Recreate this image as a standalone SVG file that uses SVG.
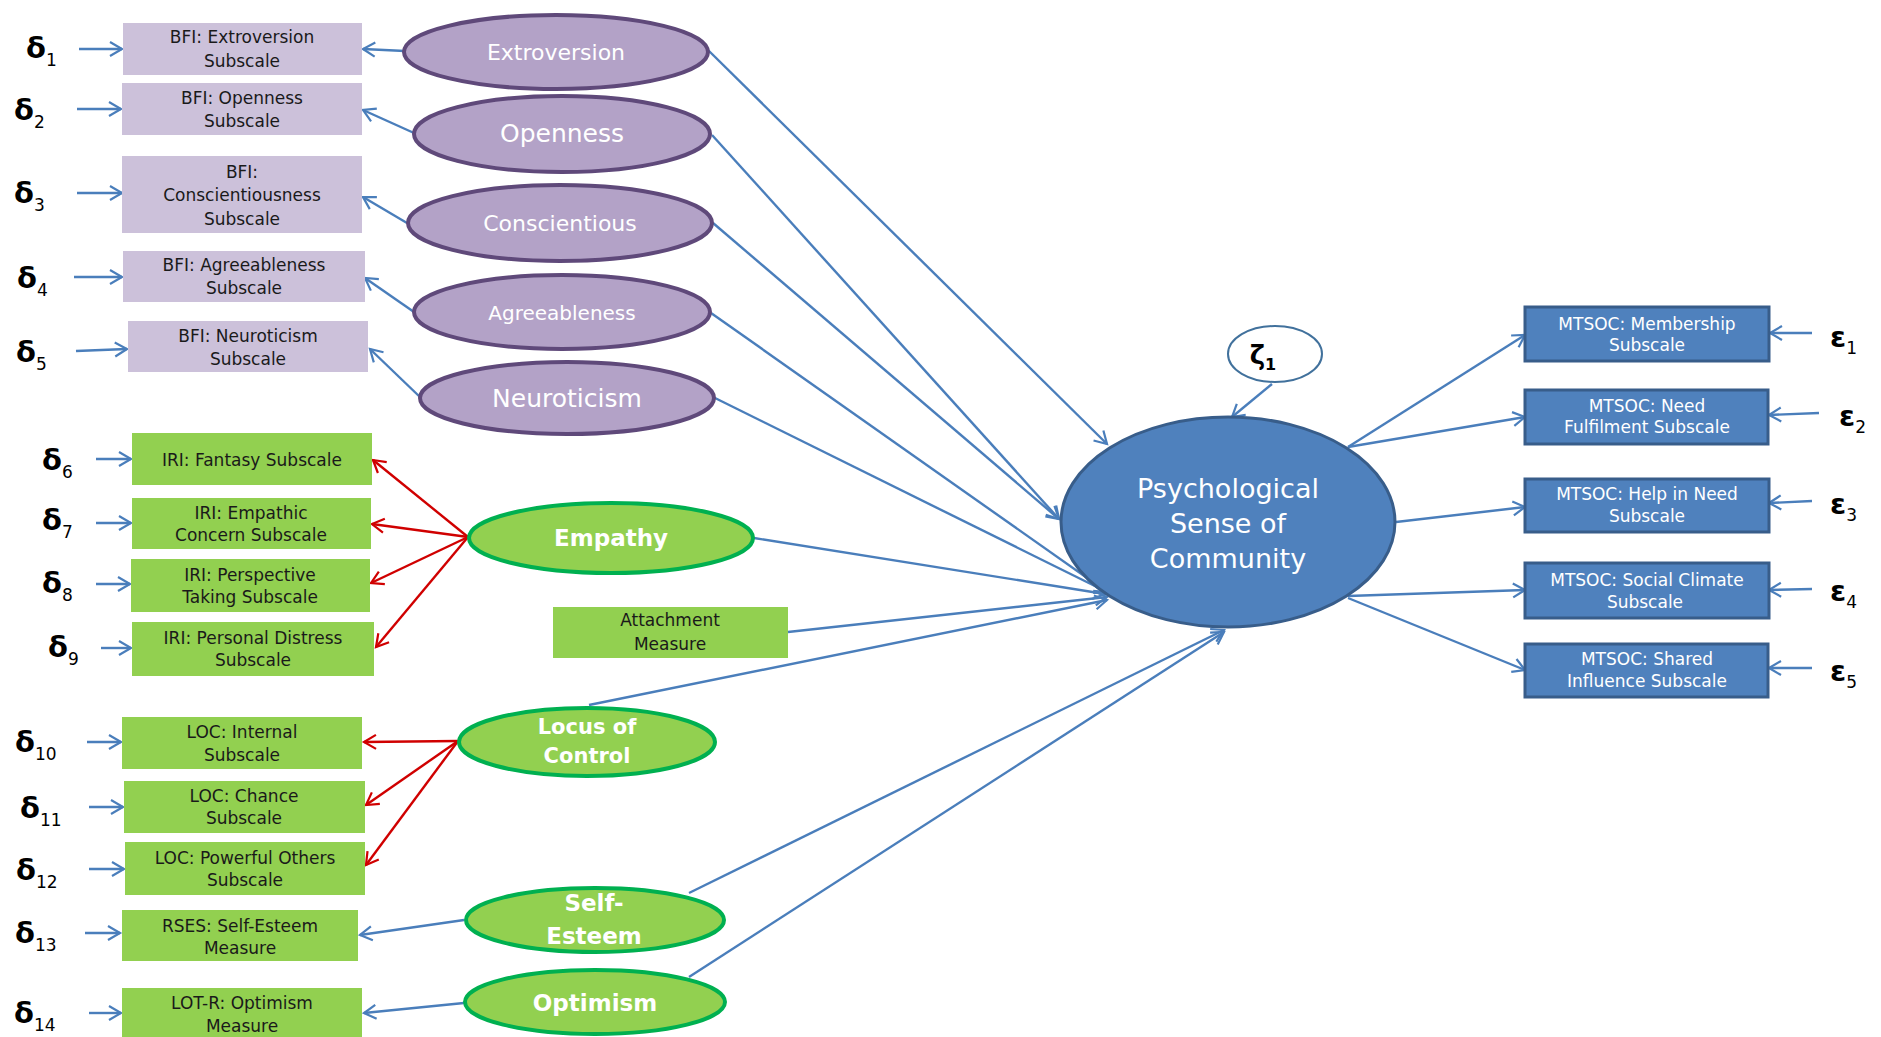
<svg xmlns="http://www.w3.org/2000/svg" width="1881" height="1037" viewBox="0 0 1881 1037">
<style>
text{font-family:"DejaVu Sans","Liberation Sans",sans-serif;text-anchor:middle;dominant-baseline:central}
.bt{font-size:17px;fill:#1a1a1a}
.wt{font-size:17px;fill:#ffffff}
.pe{fill:#b3a2c7;stroke:#5f497a;stroke-width:4}
.pb{fill:#ccc1da}
.gb{fill:#92d050}
.ge{fill:#92d050;stroke:#00b050;stroke-width:4}
.ge-t{fill:#ffffff;font-weight:bold}
.pe-t{fill:#ffffff}
.mb{fill:#4f81bd;stroke:#385d8a;stroke-width:3}
.lbl{font-size:29px;font-weight:bold;fill:#000;text-anchor:start;dominant-baseline:auto}
.sub{font-size:17px;font-weight:normal}
.cb{stroke:#4a7ebb;stroke-width:2.4;fill:none;marker-end:url(#ab)}
.cr{stroke:#d00000;stroke-width:2.4;fill:none;marker-end:url(#ar)}
</style>
<defs>
<marker id="ab" markerWidth="18" markerHeight="18" refX="14" refY="9" orient="auto" markerUnits="userSpaceOnUse"><path d="M2,2 L14,9 L2,16" fill="none" stroke="#4a7ebb" stroke-width="2.2"/></marker>
<marker id="ar" markerWidth="18" markerHeight="18" refX="14" refY="9" orient="auto" markerUnits="userSpaceOnUse"><path d="M2,2 L14,9 L2,16" fill="none" stroke="#d00000" stroke-width="2.2"/></marker>
</defs>
<g id="connectors">
<line class="cb" x1="79" y1="49" x2="122" y2="49"/>
<line class="cb" x1="77" y1="109" x2="121" y2="109"/>
<line class="cb" x1="77" y1="193" x2="122" y2="193"/>
<line class="cb" x1="74" y1="277" x2="122" y2="277"/>
<line class="cb" x1="76" y1="351" x2="127" y2="349"/>
<line class="cb" x1="96" y1="459" x2="131" y2="459"/>
<line class="cb" x1="96" y1="523" x2="131" y2="523"/>
<line class="cb" x1="96" y1="584" x2="130" y2="584"/>
<line class="cb" x1="101" y1="648" x2="131" y2="648"/>
<line class="cb" x1="87" y1="742" x2="121" y2="742"/>
<line class="cb" x1="89" y1="807" x2="123" y2="807"/>
<line class="cb" x1="89" y1="869" x2="124" y2="869"/>
<line class="cb" x1="85" y1="933" x2="120" y2="933"/>
<line class="cb" x1="89" y1="1013" x2="121" y2="1013"/>
<line class="cb" x1="405" y1="51" x2="363" y2="49"/>
<line class="cb" x1="414" y1="133" x2="363" y2="110"/>
<line class="cb" x1="407" y1="223" x2="363" y2="197"/>
<line class="cb" x1="414" y1="312" x2="365" y2="278"/>
<line class="cb" x1="421" y1="398" x2="370" y2="349"/>
<line class="cb" x1="464" y1="920" x2="360" y2="935"/>
<line class="cb" x1="464" y1="1003" x2="364" y2="1013"/>
<line class="cr" x1="468" y1="537" x2="373" y2="460"/>
<line class="cr" x1="468" y1="537" x2="372" y2="524"/>
<line class="cr" x1="468" y1="537" x2="371" y2="583"/>
<line class="cr" x1="468" y1="537" x2="376" y2="647"/>
<line class="cr" x1="458" y1="741" x2="364" y2="742"/>
<line class="cr" x1="458" y1="741" x2="366" y2="805"/>
<line class="cr" x1="458" y1="741" x2="366" y2="865"/>
<line class="cb" x1="708" y1="50" x2="1107" y2="444"/>
<line class="cb" x1="712" y1="135" x2="1059" y2="519"/>
<line class="cb" x1="713" y1="223" x2="1059" y2="519"/>
<line class="cb" x1="711" y1="313" x2="1107" y2="592"/>
<line class="cb" x1="715" y1="398" x2="1107" y2="592"/>
<line class="cb" x1="754" y1="538" x2="1105" y2="594"/>
<line class="cb" x1="788" y1="632" x2="1107" y2="597"/>
<line class="cb" x1="589" y1="705" x2="1107" y2="600"/>
<line class="cb" x1="689" y1="893" x2="1224" y2="630"/>
<line class="cb" x1="689" y1="977" x2="1224" y2="632"/>
<line class="cb" x1="1272" y1="384" x2="1232" y2="417"/>
<line class="cb" x1="1348" y1="447" x2="1525" y2="335"/>
<line class="cb" x1="1348" y1="447" x2="1525" y2="417"/>
<line class="cb" x1="1396" y1="522" x2="1525" y2="507"/>
<line class="cb" x1="1348" y1="596" x2="1525" y2="590"/>
<line class="cb" x1="1348" y1="598" x2="1525" y2="670"/>
<line class="cb" x1="1812" y1="333" x2="1770" y2="333"/>
<line class="cb" x1="1819" y1="413" x2="1769" y2="415"/>
<line class="cb" x1="1812" y1="501" x2="1769" y2="503"/>
<line class="cb" x1="1812" y1="589" x2="1769" y2="590"/>
<line class="cb" x1="1812" y1="668" x2="1769" y2="668"/>
</g>
<g id="labels">
<text class="lbl" x="26" y="58">δ<tspan class="sub" dy="8">1</tspan></text>
<text class="lbl" x="14" y="120">δ<tspan class="sub" dy="8">2</tspan></text>
<text class="lbl" x="14" y="203">δ<tspan class="sub" dy="8">3</tspan></text>
<text class="lbl" x="17" y="288">δ<tspan class="sub" dy="8">4</tspan></text>
<text class="lbl" x="16" y="362">δ<tspan class="sub" dy="8">5</tspan></text>
<text class="lbl" x="42" y="470">δ<tspan class="sub" dy="8">6</tspan></text>
<text class="lbl" x="42" y="530">δ<tspan class="sub" dy="8">7</tspan></text>
<text class="lbl" x="42" y="593">δ<tspan class="sub" dy="8">8</tspan></text>
<text class="lbl" x="48" y="657">δ<tspan class="sub" dy="8">9</tspan></text>
<text class="lbl" x="15" y="752">δ<tspan class="sub" dy="8">10</tspan></text>
<text class="lbl" x="20" y="818">δ<tspan class="sub" dy="8">11</tspan></text>
<text class="lbl" x="16" y="880">δ<tspan class="sub" dy="8">12</tspan></text>
<text class="lbl" x="15" y="943">δ<tspan class="sub" dy="8">13</tspan></text>
<text class="lbl" x="14" y="1023">δ<tspan class="sub" dy="8">14</tspan></text>
<text class="lbl" x="1830" y="347">ε<tspan class="sub" dy="7">1</tspan></text>
<text class="lbl" x="1839" y="426">ε<tspan class="sub" dy="7">2</tspan></text>
<text class="lbl" x="1830" y="514">ε<tspan class="sub" dy="7">3</tspan></text>
<text class="lbl" x="1830" y="601">ε<tspan class="sub" dy="7">4</tspan></text>
<text class="lbl" x="1830" y="681">ε<tspan class="sub" dy="7">5</tspan></text>
</g>
<g id="bfi-extroversion"><rect class="pb" x="123" y="23" width="239" height="52"/><text class="bt" x="242" y="37">BFI: Extroversion</text><text class="bt" x="242" y="61">Subscale</text></g>
<g id="bfi-openness"><rect class="pb" x="122" y="83" width="240" height="52"/><text class="bt" x="242" y="98">BFI: Openness</text><text class="bt" x="242" y="121">Subscale</text></g>
<g id="bfi-conscientiousness"><rect class="pb" x="122" y="156" width="240" height="77"/><text class="bt" x="242" y="172">BFI:</text><text class="bt" x="242" y="195">Conscientiousness</text><text class="bt" x="242" y="219">Subscale</text></g>
<g id="bfi-agreeableness"><rect class="pb" x="123" y="251" width="242" height="51"/><text class="bt" x="244" y="265">BFI: Agreeableness</text><text class="bt" x="244" y="288">Subscale</text></g>
<g id="bfi-neuroticism"><rect class="pb" x="128" y="321" width="240" height="51"/><text class="bt" x="248" y="336">BFI: Neuroticism</text><text class="bt" x="248" y="359">Subscale</text></g>
<g id="extroversion"><ellipse class="pe" cx="556" cy="52" rx="152" ry="37"/><text class="pe-t" x="556" y="52" font-size="22">Extroversion</text></g>
<g id="openness"><ellipse class="pe" cx="562" cy="134" rx="148" ry="38"/><text class="pe-t" x="562" y="133" font-size="25">Openness</text></g>
<g id="conscientious"><ellipse class="pe" cx="560" cy="223" rx="152" ry="38"/><text class="pe-t" x="560" y="223" font-size="22">Conscientious</text></g>
<g id="agreeableness"><ellipse class="pe" cx="562" cy="312" rx="148" ry="37"/><text class="pe-t" x="562" y="313" font-size="20">Agreeableness</text></g>
<g id="neuroticism"><ellipse class="pe" cx="567" cy="398" rx="147" ry="36"/><text class="pe-t" x="567" y="398" font-size="25">Neuroticism</text></g>
<g id="iri-fantasy"><rect class="gb" x="132" y="433" width="240" height="52"/><text class="bt" x="252" y="460">IRI: Fantasy Subscale</text></g>
<g id="iri-empathic"><rect class="gb" x="132" y="498" width="239" height="51"/><text class="bt" x="251" y="513">IRI: Empathic</text><text class="bt" x="251" y="535">Concern Subscale</text></g>
<g id="iri-perspective"><rect class="gb" x="131" y="559" width="239" height="53"/><text class="bt" x="250" y="575">IRI: Perspective</text><text class="bt" x="250" y="597">Taking Subscale</text></g>
<g id="iri-distress"><rect class="gb" x="132" y="622" width="242" height="54"/><text class="bt" x="253" y="638">IRI: Personal Distress</text><text class="bt" x="253" y="660">Subscale</text></g>
<g id="empathy"><ellipse class="ge" cx="611" cy="538" rx="142" ry="35"/><text class="ge-t" x="611" y="538" font-size="23">Empathy</text></g>
<g id="attachment"><rect class="gb" x="553" y="607" width="235" height="51"/><text class="bt" x="670" y="620">Attachment</text><text class="bt" x="670" y="644">Measure</text></g>
<g id="loc-internal"><rect class="gb" x="122" y="717" width="240" height="52"/><text class="bt" x="242" y="732">LOC: Internal</text><text class="bt" x="242" y="755">Subscale</text></g>
<g id="loc-chance"><rect class="gb" x="124" y="781" width="241" height="52"/><text class="bt" x="244" y="796">LOC: Chance</text><text class="bt" x="244" y="818">Subscale</text></g>
<g id="loc-powerful"><rect class="gb" x="125" y="842" width="240" height="53"/><text class="bt" x="245" y="858">LOC: Powerful Others</text><text class="bt" x="245" y="880">Subscale</text></g>
<g id="locus"><ellipse class="ge" cx="587" cy="742" rx="128" ry="34"/><text class="ge-t" x="587" y="727" font-size="21">Locus of</text><text class="ge-t" x="587" y="756" font-size="21">Control</text></g>
<g id="rses"><rect class="gb" x="122" y="910" width="236" height="51"/><text class="bt" x="240" y="926">RSES: Self-Esteem</text><text class="bt" x="240" y="948">Measure</text></g>
<g id="self-esteem"><ellipse class="ge" cx="595" cy="920" rx="129" ry="32"/><text class="ge-t" x="594" y="903" font-size="23">Self-</text><text class="ge-t" x="594" y="936" font-size="23">Esteem</text></g>
<g id="lotr"><rect class="gb" x="122" y="988" width="240" height="49"/><text class="bt" x="242" y="1003">LOT-R: Optimism</text><text class="bt" x="242" y="1026">Measure</text></g>
<g id="optimism"><ellipse class="ge" cx="595" cy="1002" rx="130" ry="32"/><text class="ge-t" x="595" y="1003" font-size="23">Optimism</text></g>
<g id="zeta"><ellipse cx="1275" cy="354" rx="47" ry="28" fill="#fff" stroke="#41719c" stroke-width="2"/><text x="1263" y="364" font-size="26" font-weight="bold" style="dominant-baseline:auto">ζ<tspan font-size="16" dy="6">1</tspan></text></g>
<g id="psc"><ellipse cx="1228" cy="522" rx="167" ry="105" fill="#4f81bd" stroke="#385d8a" stroke-width="3"/><text class="pe-t" x="1228" y="488" font-size="27">Psychological</text><text class="pe-t" x="1228" y="523" font-size="27">Sense of</text><text class="pe-t" x="1228" y="558" font-size="27">Community</text></g>
<g id="mtsoc-membership"><rect class="mb" x="1525" y="307" width="244" height="54"/><text class="wt" x="1647" y="324">MTSOC: Membership</text><text class="wt" x="1647" y="345">Subscale</text></g>
<g id="mtsoc-need"><rect class="mb" x="1525" y="390" width="243" height="54"/><text class="wt" x="1647" y="406">MTSOC: Need</text><text class="wt" x="1647" y="427">Fulfilment Subscale</text></g>
<g id="mtsoc-help"><rect class="mb" x="1525" y="479" width="244" height="53"/><text class="wt" x="1647" y="494">MTSOC: Help in Need</text><text class="wt" x="1647" y="516">Subscale</text></g>
<g id="mtsoc-social"><rect class="mb" x="1525" y="563" width="244" height="55"/><text class="wt" x="1647" y="580">MTSOC: Social Climate</text><text class="wt" x="1645" y="602">Subscale</text></g>
<g id="mtsoc-shared"><rect class="mb" x="1525" y="644" width="243" height="53"/><text class="wt" x="1647" y="659">MTSOC: Shared</text><text class="wt" x="1647" y="681">Influence Subscale</text></g>
</svg>
